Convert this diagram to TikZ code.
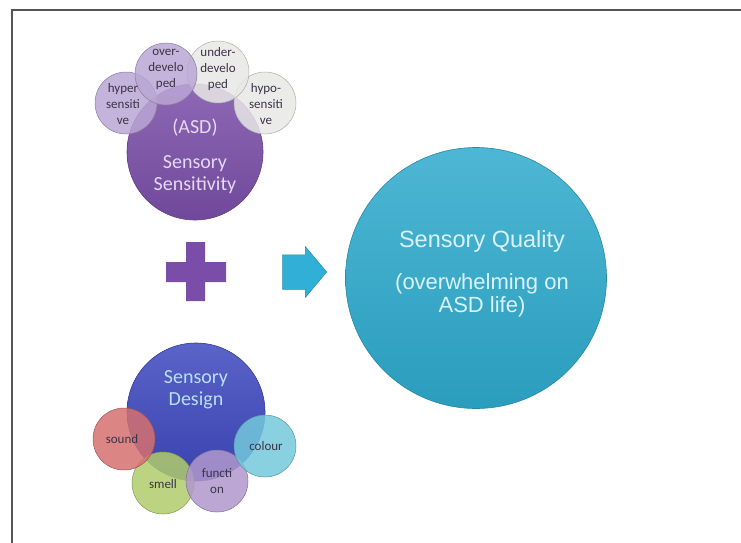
\documentclass[tikz,border=0pt]{standalone}
\usepackage{fontspec}
\setmainfont{Carlito}
\newfontfamily\arialfont{Liberation Sans}
\usepackage{tikz}
\usetikzlibrary{shapes.arrows}
\definecolor{mypurple}{RGB}{122,78,168}
\definecolor{mylilac}{RGB}{186,166,212}
\definecolor{mygrey}{RGB}{232,232,230}
\definecolor{myblue}{RGB}{62,72,190}
\definecolor{myred}{RGB}{214,112,112}
\definecolor{mygreen}{RGB}{176,204,108}
\definecolor{myviolet}{RGB}{176,152,204}
\definecolor{mycyan}{RGB}{116,200,220}
\definecolor{myqual}{RGB}{46,170,205}
\definecolor{myarrow}{RGB}{48,176,214}
\definecolor{myframe}{RGB}{85,85,85}
\definecolor{lighttext}{RGB}{228,216,242}
\definecolor{darktext}{RGB}{60,52,72}

\begin{document}
\begin{tikzpicture}[x=1pt,y=-1pt,
          bignode/.style={circle,inner sep=0pt,draw=#1!80!black,line width=0.6pt,
            top color=#1!85!white,bottom color=#1!92!black},
          smallnode/.style={circle,inner sep=0pt,minimum size=62pt,draw=#1!75!black,
            line width=0.5pt,fill=#1,fill opacity=0.85},
          smalltext/.style={align=center,text=darktext,font=\fontsize{13}{16}\selectfont},
          bigtext/.style={align=center,text=lighttext,font=\fontsize{20}{22}\selectfont}
          ]
          \useasboundingbox (0,0) rectangle (741,542);
          % the frame
          \draw[myframe,line width=2pt] (12,550) -- (12,10) -- (750,10);

          % the sensitivity circles
          \node[bignode=mypurple,minimum size=136pt] (sens) at (195,152) {};
          \node[bigtext] (senstext) at (195,156) {(ASD)\\[13pt]Sensory\\Sensitivity};
          \foreach \n/\cx/\cy/\col in {hyper/126/103/mylilac,hypo/265/103/mygrey,
              under/218/72/mygrey,over/166/74/mylilac}
            \node[smallnode=\col] (\n) at (\cx,\cy) {};
          \foreach \n/\cx/\cy/\txt in {hyper/123/104/{hyper\\sensiti\\ve},
              hypo/266/104/{hypo-\\sensiti\\ve},
              under/218/69/{under-\\develo\\ped},
              over/166/69/{over-\\develo\\ped}}
            \node[smalltext] (\n-txt) at (\cx,\cy) {\txt};

          % the plus
          \fill[mypurple] (186,242) -- (205,242) -- (205,262) -- (226,262) -- (226,282)
            -- (205,282) -- (205,301) -- (186,301) -- (186,282) -- (166,282)
            -- (166,262) -- (186,262) -- cycle;

          % the design circles
          \node[bignode=myblue,minimum size=138pt] (design) at (196,412) {};
          \node[bigtext,text=lighttext!80!cyan] (designtext) at (196,390) {Sensory\\Design};
          \foreach \n/\cx/\cy/\col in {smell/163/483/mygreen,function/217/481/myviolet,
              sound/124/439/myred,colour/265/446/mycyan}
            \node[smallnode=\col] (\n) at (\cx,\cy) {};
          \foreach \n/\cx/\cy/\txt in {smell/163/484/smell,function/217/481/{functi\\on},
              sound/122/439/sound,colour/266/446/colour}
            \node[smalltext] (\n-txt) at (\cx,\cy) {\txt};

          % the arrow
          \node[single arrow,fill=myarrow,draw=myarrow!80!black,line width=0.5pt,
            minimum height=44pt,inner xsep=0pt,inner ysep=17pt,
            single arrow head extend=8pt,single arrow tip angle=100,anchor=tip]
            (arr) at (327,272) {};

          % the quality circle
          \node[bignode=myqual,minimum size=261pt] (quality) at (476,278) {};
          \node[align=center,text=white!85!cyan,font=\arialfont\fontsize{22}{23}\selectfont]
            (qualtext) at (482,274)
            {{\fontsize{23.5}{23}\selectfont Sensory Quality}\\[19pt](overwhelming on\\ASD life)};
        \end{tikzpicture}
\end{document}
